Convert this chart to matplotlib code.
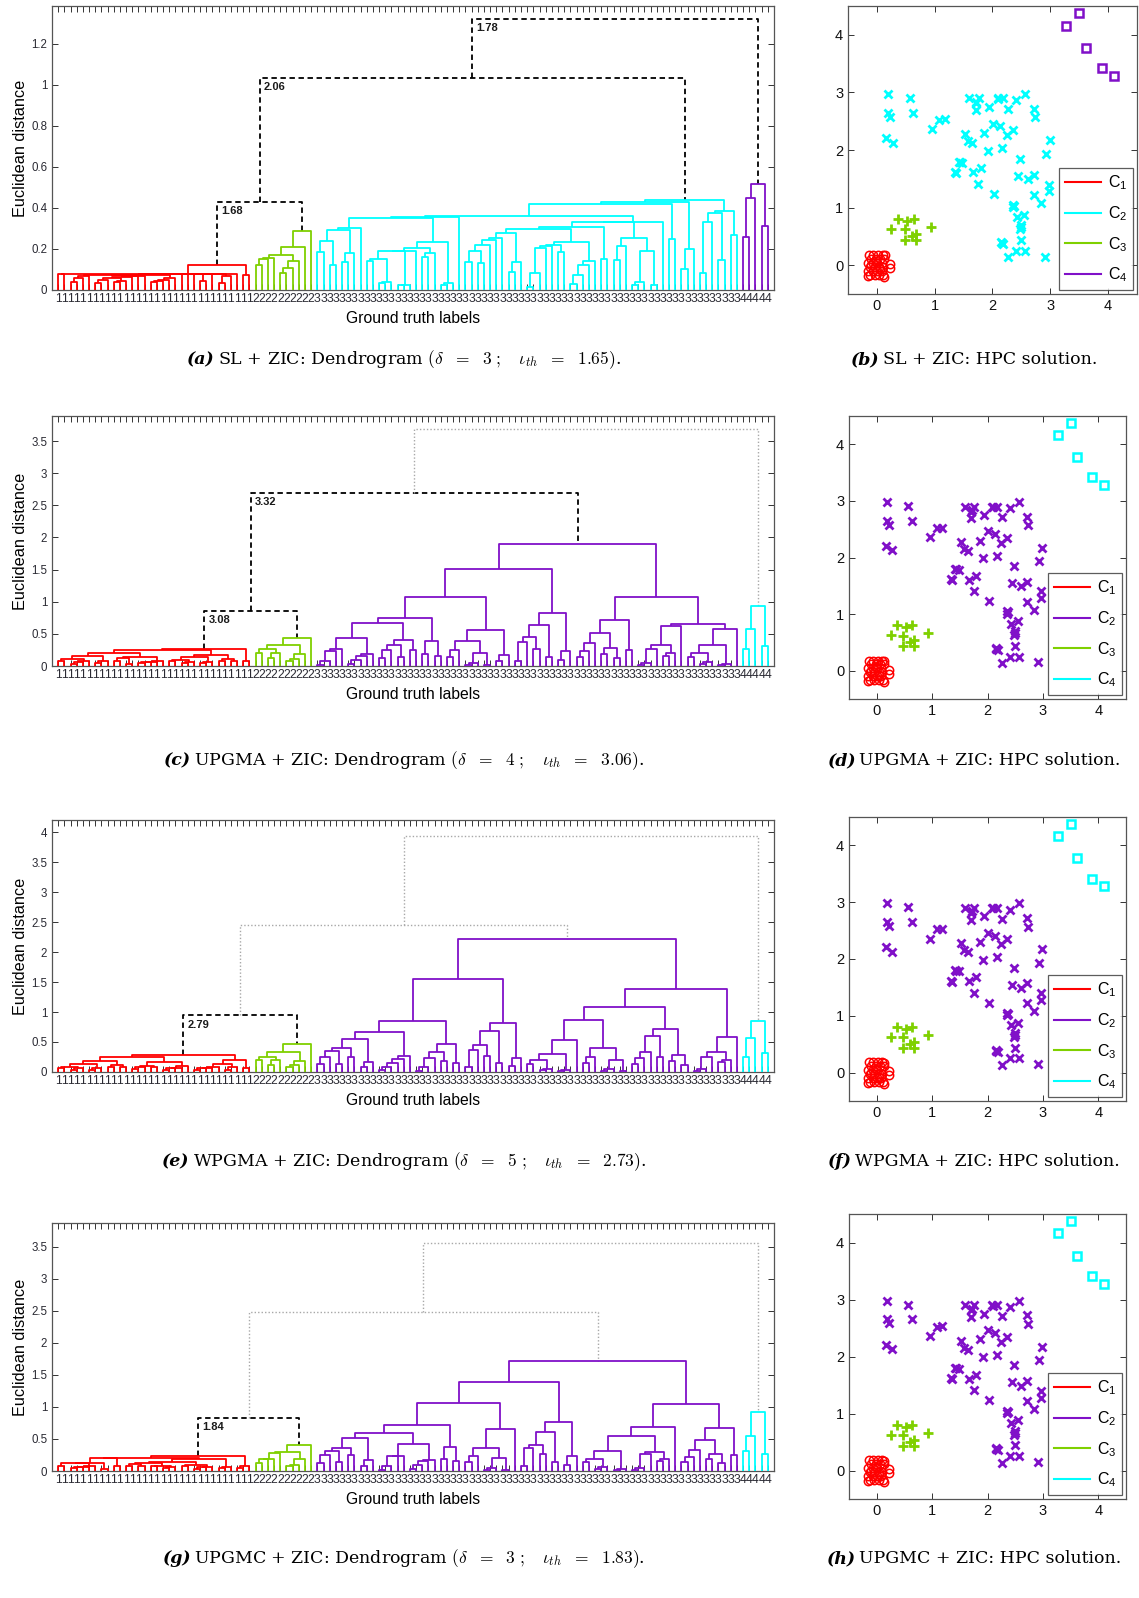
import numpy as np
import matplotlib
matplotlib.use("Agg")
import matplotlib.pyplot as plt
from matplotlib.lines import Line2D

plt.rcParams['font.family'] = ['Liberation Sans', 'DejaVu Sans']
plt.rcParams['mathtext.fontset'] = 'cm'

# ---------------------------------------------------------------- data
# ground-truth group 1 (red circles)
c1_x = [-0.14, -0.06, 0.02, 0.10, -0.10, -0.02, 0.06, 0.13,
        -0.15, -0.07, 0.01, 0.08, -0.12, -0.04, 0.04, 0.10,
        -0.15, -0.07, 0.01, 0.08, -0.12, -0.04, 0.04, 0.11,
        -0.16, 0.13, -0.02, 0.05, -0.10, 0.14, 0.22, 0.23]
c1_y = [0.18, 0.18, 0.18, 0.18, 0.11, 0.11, 0.11, 0.11,
        0.04, 0.04, 0.04, 0.04, -0.03, -0.03, -0.03, -0.03,
        -0.10, -0.10, -0.10, -0.10, -0.17, -0.17, -0.17, -0.17,
        -0.19, -0.20, 0.07, -0.07, 0.00, 0.17, -0.05, 0.02]
# ground-truth group 2 (plus markers)
c2_x = [0.37, 0.52, 0.64, 0.25, 0.48, 0.67, 0.60, 0.93, 0.48, 0.68]
c2_y = [0.80, 0.77, 0.80, 0.63, 0.62, 0.54, 0.50, 0.66, 0.43, 0.43]
# ground-truth group 3 (x markers)
c3_x = [0.19, 0.57, 0.19, 0.23, 0.63, 0.16, 0.28, 0.96, 1.08, 1.18, 1.59, 1.76,
        1.71, 1.71, 1.94, 2.09, 2.18, 2.41, 2.56, 2.26, 2.72, 2.73, 2.01, 2.13,
        1.86, 2.35, 2.25, 1.53, 1.57, 1.65, 2.99, 1.92, 2.17, 2.93, 2.48, 1.42,
        1.48, 1.35, 1.67, 1.80, 2.44, 2.72, 2.61, 1.75, 2.97, 2.97, 2.03, 2.72,
        2.84, 2.36, 2.36, 2.42, 2.55, 2.50, 2.48, 2.50, 2.15, 2.19, 2.41, 2.57,
        2.27, 2.91, 1.36, 1.44, 2.37, 2.50, 1.72, 2.10, 2.16]
c3_y = [2.98, 2.91, 2.65, 2.58, 2.65, 2.21, 2.13, 2.36, 2.52, 2.53, 2.90, 2.90,
        2.81, 2.69, 2.75, 2.90, 2.90, 2.87, 2.98, 2.71, 2.72, 2.57, 2.46, 2.41,
        2.30, 2.35, 2.26, 2.28, 2.15, 2.12, 2.17, 1.99, 2.03, 1.93, 1.85, 1.80,
        1.78, 1.62, 1.61, 1.68, 1.55, 1.57, 1.49, 1.41, 1.40, 1.28, 1.23, 1.22,
        1.08, 1.05, 1.01, 0.83, 0.88, 0.70, 0.63, 0.44, 0.40, 0.36, 0.25, 0.25,
        0.14, 0.15, 1.60, 1.79, 1.03, 0.66, 2.84, 2.89, 0.38]
# ground-truth group 4 (squares)
c4_x = [3.28, 3.50, 3.62, 3.89, 4.11]
c4_y = [4.16, 4.38, 3.77, 3.415, 3.28]

# panel settings
methods = ['single', 'average', 'weighted', 'centroid']
method_names = ['SL', 'UPGMA', 'WPGMA', 'UPGMC']
tags_left = ['(a)', '(c)', '(e)', '(g)']
tags_right = ['(b)', '(d)', '(f)', '(h)']
deltas = [3, 4, 5, 3]
iota_th = ['1.65', '3.06', '2.73', '1.83']
# text shown on the three top-level links (None = grey dotted, unlabelled)
link_texts = [['1.68', '2.06', '1.78'],
              ['3.08', '3.32', None],
              ['2.79', None, None],
              ['1.84', None, None]]
ylim_tops = [1.383, 3.89, 4.2, 3.87]
ytick_steps = [0.2, 0.5, 0.5, 0.5]
ytick_maxs = [1.2, 3.5, 4.0, 3.5]

RED = '#ff0000'
CYAN = '#00ffff'
GREEN = '#7fd000'
PURPLE = '#8010c8'
# colour of clusters C1..C4 in each solution
cluster_colors = [[RED, CYAN, GREEN, PURPLE],
                  [RED, PURPLE, GREEN, CYAN],
                  [RED, PURPLE, GREEN, CYAN],
                  [RED, PURPLE, GREEN, CYAN]]

# ---------------------------------------------------------------- layout (pixels)
W, H = 1139, 1598
dendro_boxes = [(52, 6, 774, 290), (52, 416, 774, 666),
                (52, 820, 774, 1072), (52, 1223, 774, 1471)]
scatter_boxes = [(848, 6, 1137, 294), (849, 416, 1126, 699),
                 (849, 817, 1126, 1101), (849, 1214, 1126, 1499)]
caption_base = [364, 765, 1166, 1563]
cap_left_x = 404
cap_right_x = 974

AX_COLOR = '#2a2a33'
CAP_SIZE = 12.5


def frac_box(l, t, r, b):
    return [l / W, 1 - b / H, (r - l) / W, (b - t) / H]


def agglomerate(X, method):
    n = len(X)
    diff = X[:, None, :] - X[None, :, :]
    D = np.sqrt((diff ** 2).sum(-1))
    np.fill_diagonal(D, np.inf)
    active = np.ones(n, bool)
    ids = list(range(n))
    size = np.ones(n)
    cent = X.astype(float).copy()
    merges = []
    for step in range(n - 1):
        M = np.where(active[:, None] & active[None, :], D, np.inf)
        i, j = divmod(int(np.argmin(M)), n)
        if i > j:
            i, j = j, i
        h = D[i, j]
        merges.append((ids[i], ids[j], h))
        si, sj = size[i], size[j]
        if method == 'single':
            new = np.minimum(D[i], D[j])
        elif method == 'average':
            new = (si * D[i] + sj * D[j]) / (si + sj)
        elif method == 'weighted':
            new = (D[i] + D[j]) / 2
        else:
            c = (si * cent[i] + sj * cent[j]) / (si + sj)
            cent[i] = c
            new = np.sqrt(((cent - c) ** 2).sum(1))
        D[i, :] = new
        D[:, i] = new
        D[i, i] = np.inf
        active[j] = False
        ids[i] = n + step
        size[i] = si + sj
    return merges


def draw_dendrogram(ax, merges, labels, label_colors, texts):
    n = len(labels)
    children = {n + k: (a, b, h) for k, (a, b, h) in enumerate(merges)}
    labset = {i: {labels[i]} for i in range(n)}
    hgt = {leaf: 0.0 for leaf in range(n)}
    for node in sorted(children):
        a, b, h = children[node]
        labset[node] = labset[a] | labset[b]
        hgt[node] = h

    def ordered(node):
        if node < n:
            return [node]
        a, b, _ = children[node]
        if len(labset[node]) > 1:
            # top-level joins: keep ground-truth groups in label order
            if min(labset[a]) > min(labset[b]):
                a, b = b, a
        elif hgt[a] < hgt[b]:
            # inside a group: the taller branch goes on the left
            a, b = b, a
        return ordered(a) + ordered(b)

    order = ordered(2 * n - 2)
    xpos = {leaf: i + 1 for i, leaf in enumerate(order)}
    for node in sorted(children):
        a, b, h = children[node]
        xpos[node] = (xpos[a] + xpos[b]) / 2
    for node in sorted(children):
        a, b, h = children[node]
        xs = [xpos[a], xpos[a], xpos[b], xpos[b]]
        ys = [hgt[a], h, h, hgt[b]]
        if len(labset[node]) == 1:
            lab = next(iter(labset[node]))
            ax.plot(xs, ys, color=label_colors[lab], lw=1.3, solid_capstyle='butt', zorder=3)
        else:
            txt = texts[len(labset[node]) - 2]
            if txt is None:
                ax.plot(xs, ys, color='#a8a8a8', lw=1.0, ls=(0, (1, 1.5)), zorder=2)
            else:
                ax.plot(xs, ys, color='black', lw=1.3, ls=(0, (3, 2)), zorder=2)
                ax.annotate(txt, xy=(min(xpos[a], xpos[b]), h), xytext=(3, -3),
                            textcoords='offset points', ha='left', va='top',
                            fontsize=8, fontweight='bold', color='#1a1a1a')
    ax.set_xlim(0, n + 1)
    ax.set_xticks(np.arange(1, n + 1))
    ax.set_xticklabels([str(labels[o]) for o in order], fontsize=8.8)


points = np.array(list(zip(c1_x, c1_y)) + list(zip(c2_x, c2_y)) +
                  list(zip(c3_x, c3_y)) + list(zip(c4_x, c4_y)))
truth = [1] * len(c1_x) + [2] * len(c2_x) + [3] * len(c3_x) + [4] * len(c4_x)

fig = plt.figure(figsize=(W / 100, H / 100), dpi=100)
captions = []

for r in range(4):
    cols = cluster_colors[r]
    # ground-truth label -> cluster colour (label 2 is C3, label 3 is C2)
    label_colors = {1: cols[0], 2: cols[2], 3: cols[1], 4: cols[3]}

    # ---- dendrogram
    l, t, rr, b = dendro_boxes[r]
    ax = fig.add_axes(frac_box(l, t, rr, b))
    merges = agglomerate(points, methods[r])
    draw_dendrogram(ax, merges, truth, label_colors, link_texts[r])
    ax.set_ylim(0, ylim_tops[r])
    yt = np.arange(0, ytick_maxs[r] + 1e-9, ytick_steps[r])
    ax.set_yticks(yt)
    ax.set_yticklabels([('%g' % v) for v in yt], fontsize=8.3, color=AX_COLOR)
    ax.tick_params(axis='both', direction='in', top=True, right=True,
                   length=4, width=0.7, color='#333333')
    ax.tick_params(axis='x', pad=2, labelcolor=AX_COLOR)
    for s in ax.spines.values():
        s.set_color('#555555')
        s.set_linewidth(0.9)
    ax.set_ylabel('Euclidean distance', fontsize=11.7, color='black')
    ax.yaxis.set_label_coords(-0.033, 0.5)
    ax.set_xlabel('Ground truth labels', fontsize=11.3, color='black')
    ax.xaxis.set_label_coords(0.5, -21 / (b - t))

    # ---- scatter of the solution
    l, t, rr, b = scatter_boxes[r]
    sx = fig.add_axes(frac_box(l, t, rr, b))
    sx.plot(c1_x, c1_y, 'o', mfc='none', mec=cols[0], ms=6, mew=1.1, ls='none')
    sx.plot(c3_x, c3_y, 'x', color=cols[1], ms=6, mew=2.0, ls='none')
    sx.plot(c2_x, c2_y, '+', color=cols[2], ms=7, mew=2.0, ls='none')
    sx.plot(c4_x, c4_y, 's', mfc='none', mec=cols[3], ms=6, mew=1.8, ls='none')
    sx.set_xlim(-0.5, 4.5)
    sx.set_ylim(-0.5, 4.5)
    sx.set_xticks(range(5))
    sx.set_yticks(range(5))
    sx.tick_params(direction='in', top=True, right=True, length=4, width=0.7,
                   labelsize=10.5, color='#333333', labelcolor='#111111')
    for s in sx.spines.values():
        s.set_color('#555555')
        s.set_linewidth(0.9)
    handles = [Line2D([0], [0], color=c, lw=1.5) for c in cols]
    names = [r'$\mathregular{C_%d}$' % (k + 1) for k in range(4)]
    leg = sx.legend(handles, names, loc='lower right', fontsize=11.5,
                    frameon=True, fancybox=False, edgecolor='#333333',
                    borderaxespad=0.25, handlelength=2.3, handletextpad=0.4,
                    labelspacing=0.75, borderpad=0.35)
    leg.get_frame().set_linewidth(0.9)

    # ---- captions
    body_l = (r'%s + ZIC: Dendrogram $(\delta\ \ =\ \ %d\ ;\quad\iota_{th}\ \ =\ \ %s)$.'
              % (method_names[r], deltas[r], iota_th[r]))
    body_r = '%s + ZIC: HPC solution.' % method_names[r]
    for tag, body, cx in ((tags_left[r], body_l, cap_left_x),
                          (tags_right[r], body_r, cap_right_x)):
        t1 = fig.text(0, 0, tag, fontsize=CAP_SIZE, family='DejaVu Serif',
                      style='italic', fontweight='bold', va='baseline')
        t2 = fig.text(0, 0, body, fontsize=CAP_SIZE, family='DejaVu Serif',
                      va='baseline')
        captions.append((t1, t2, cx, caption_base[r]))

# centre each two-part caption
fig.canvas.draw()
renderer = fig.canvas.get_renderer()
for t1, t2, cx, base in captions:
    w1 = t1.get_window_extent(renderer).width
    w2 = t2.get_window_extent(renderer).width
    gap = 3
    x0 = cx - (w1 + gap + w2) / 2
    t1.set_position((x0 / W, 1 - base / H))
    t2.set_position(((x0 + w1 + gap) / W, 1 - base / H))

fig.savefig('out.png', dpi=100)
